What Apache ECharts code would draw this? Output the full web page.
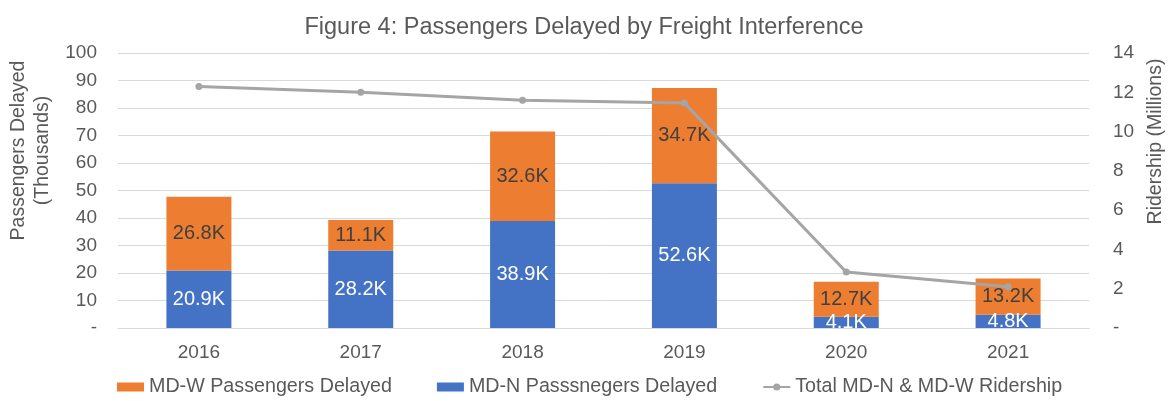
<!DOCTYPE html>
<html>
<head>
<meta charset="utf-8">
<script src="https://cdn.jsdelivr.net/npm/echarts@6/dist/echarts.min.js"></script>
<style>
html, body { margin: 0; padding: 0; background: #fff; }
#main { width: 1168px; height: 401px; }
</style>
</head>
<body>
<div id="main"></div>
<script>
// data
var years = ['2016', '2017', '2018', '2019', '2020', '2021'];
var mdwDelayed = [26.8, 11.1, 32.6, 34.7, 12.7, 13.2];
var mdnDelayed = [20.9, 28.2, 38.9, 52.6, 4.1, 4.8];
var ridership = [12.3, 12.0, 11.6, 11.45, 2.85, 2.1];

var font = 'Liberation Sans, Arial, sans-serif';
var txt = '#595959';

var chartDom = document.getElementById('main');
var myChart = echarts.init(chartDom);

function dash(v) { return v === 0 ? '-' : v; }
function kLabel(p) { return p.value.toFixed(1) + 'K'; }

var option = {
    animation: false,
    title: {
        text: 'Figure 4: Passengers Delayed by Freight Interference',
        left: 'center',
        top: 11,
        textStyle: { fontFamily: font, fontSize: 23.5, fontWeight: 'normal', color: txt }
    },
    legend: {
        bottom: -1,
        left: 112,
        itemGap: 45,
        itemWidth: 27,
        itemHeight: 9,
        textStyle: { fontFamily: font, fontSize: 19.7, color: txt },
        data: [
            { name: 'MD-W Passengers Delayed', icon: 'rect' },
            { name: 'MD-N Passsnegers Delayed', icon: 'rect' },
            { name: 'Total MD-N & MD-W Ridership' }
        ]
    },
    grid: {
        left: 118,
        right: 79,
        top: 53,
        bottom: 73,
        outerBoundsMode: 'none'
    },
    xAxis: {
        type: 'category',
        data: years,
        axisTick: { show: false },
        axisLine: { lineStyle: { color: '#d9d9d9' } },
        axisLabel: { fontFamily: font, fontSize: 19, color: txt, margin: 15 }
    },
    yAxis: [
        {
            type: 'value',
            min: 0,
            max: 100,
            interval: 10,
            name: 'Passengers Delayed\n(Thousands)',
            nameLocation: 'middle',
            nameGap: 62,
            nameTextStyle: {
                fontFamily: font, fontSize: 19.5, color: txt, lineHeight: 24,
                padding: [0, 0, 0, 80]
            },
            axisLabel: { fontFamily: font, fontSize: 19, color: txt, margin: 21, formatter: dash },
            splitLine: { lineStyle: { color: '#d9d9d9', width: 1 } }
        },
        {
            type: 'value',
            min: 0,
            max: 14,
            interval: 2,
            name: 'Ridership (Millions)',
            nameLocation: 'middle',
            nameGap: 57,
            nameRotate: 90,
            nameTextStyle: {
                fontFamily: font, fontSize: 19.5, color: txt,
                padding: [0, 0, 0, 98]
            },
            axisLabel: { fontFamily: font, fontSize: 19, color: txt, margin: 24, formatter: dash },
            splitLine: { show: false }
        }
    ],
    series: [
        {
            name: 'MD-N Passsnegers Delayed',
            type: 'bar',
            stack: 'delayed',
            barWidth: 65,
            itemStyle: { color: '#4472C4' },
            label: {
                show: true,
                position: 'inside',
                fontFamily: font, fontSize: 20, color: '#ffffff',
                formatter: kLabel
            },
            data: mdnDelayed
        },
        {
            name: 'MD-W Passengers Delayed',
            type: 'bar',
            stack: 'delayed',
            barWidth: 65,
            itemStyle: { color: '#ED7D31' },
            label: {
                show: true,
                position: 'inside',
                fontFamily: font, fontSize: 20, color: '#404040',
                formatter: kLabel
            },
            data: mdwDelayed
        },
        {
            name: 'Total MD-N & MD-W Ridership',
            type: 'line',
            yAxisIndex: 1,
            symbol: 'circle',
            symbolSize: 7,
            itemStyle: { color: '#A5A5A5' },
            lineStyle: { color: '#A5A5A5', width: 3 },
            data: ridership
        }
    ]
};

option && myChart.setOption(option);
</script>
</body>
</html>
